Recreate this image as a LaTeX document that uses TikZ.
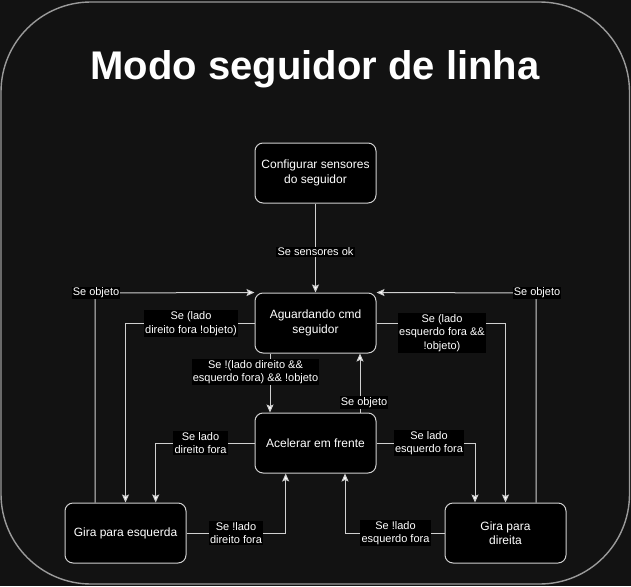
\documentclass[tikz,border=0pt]{standalone}
\usepackage{fontspec}
\setmainfont{Liberation Sans}
\usetikzlibrary{arrows.meta}
\definecolor{bgc}{HTML}{121212}
\definecolor{framec}{HTML}{9A9A9A}
\definecolor{linec}{HTML}{D0D0D0}
\begin{document}
\begin{tikzpicture}[x=1pt,y=-1pt,
  statebox/.style={rectangle, rounded corners=8pt, draw=linec, fill=black, line width=1pt,
    minimum width=121pt, minimum height=60pt, inner sep=0pt, text=white, align=center,
    font=\fontsize{12}{14.5}\selectfont},
  edgelabel/.style={fill=black, text=white, inner sep=1.2pt, align=center,
    font=\fontsize{11}{13.5}\selectfont},
  arr/.style={draw=linec, line width=1pt, -{Stealth[length=8pt,width=7pt,inset=1.5pt,fill=white]}}
]
\useasboundingbox (0,0) rectangle (631,586);
\fill[bgc] (0,0) rectangle (631,586);
\draw[framec, line width=1.4pt, rounded corners=90pt] (1,2) rectangle (629.5,584);

\node[anchor=base, text=white, font=\fontsize{40}{44}\bfseries\selectfont] (title) at (315,79) {Modo seguidor de linha};

\node[statebox] (conf) at (315.5,173) {Configurar sensores\\do seguidor};
\node[statebox] (aguard) at (315.5,323) {Aguardando cmd\\seguidor};
\node[statebox] (accel) at (315.5,443) {Acelerar em frente};
\node[statebox] (gesq) at (125.5,533) {Gira para esquerda};
\node[statebox] (gdir) at (505.5,533) {Gira para\\direita};

\coordinate (c2) at (95,293);
\coordinate (c3) at (536,293);
\coordinate (x6) at (270,383);
\coordinate (x7) at (360,383);
\coordinate (x8) at (155.7,490);
\coordinate (x9) at (285.7,490);
\coordinate (x10) at (475,490);
\coordinate (x11) at (345,490);

\draw[arr] (conf) -- (aguard);
\draw[arr] (gesq.north -| c2) -- (c2) -- (aguard.north west);
\draw[arr] (gdir.north -| c3) -- (c3) -- (aguard.north east);
\draw[arr] (aguard.west) -| (gesq.north);
\draw[arr] (aguard.east) -| (gdir.north);
\draw[arr] (aguard.south -| x6) -- (accel.north -| x6);
\draw[arr] (accel.north -| x7) -- (aguard.south -| x7);
\draw[arr] (accel.west) -| (gesq.north -| x8);
\draw[arr] (gesq.east) -| (accel.south -| x9);
\draw[arr] (accel.east) -| (gdir.north -| x10);
\draw[arr] (gdir.west) -| (accel.south -| x11);

\node[edgelabel] (l1) at (315.5,252) {Se sensores ok};
\node[edgelabel] (l2) at (96,293) {Se objeto};
\node[edgelabel] (l3) at (537,293) {Se objeto};
\node[edgelabel] (l4) at (191,323.5) {Se (lado\\direito fora !objeto)};
\node[edgelabel] (l5) at (442,333) {Se (lado\\esquerdo fora \&\&\\!objeto)};
\node[edgelabel] (l6) at (255.5,372) {Se !(lado direito \&\&\\esquerdo fora) \&\& !objeto};
\node[edgelabel] (l7) at (364,402.5) {Se objeto};
\node[edgelabel] (l8) at (200.5,443) {Se lado\\direito fora};
\node[edgelabel] (l9) at (236,533) {Se !lado\\direito fora};
\node[edgelabel] (l10) at (429,443) {Se lado\\esquerdo fora};
\node[edgelabel] (l11) at (395.5,533) {Se !lado\\esquerdo fora};
\end{tikzpicture}
\end{document}
